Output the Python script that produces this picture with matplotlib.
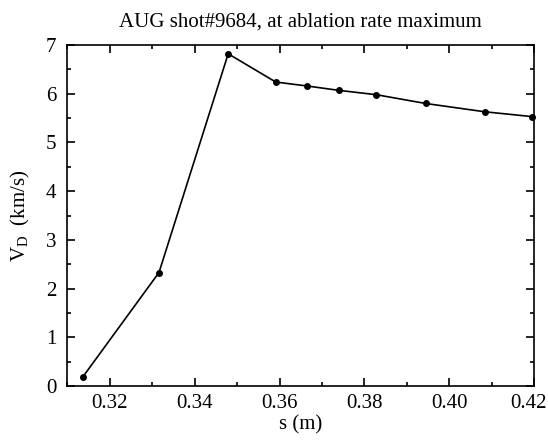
import matplotlib
matplotlib.use("Agg")
import matplotlib.pyplot as plt
from matplotlib.ticker import MultipleLocator, FormatStrFormatter
import matplotlib.transforms as mtransforms

s_m = [0.3136, 0.3316, 0.3479, 0.3591, 0.3664, 0.3739, 0.3828, 0.3944, 0.4083, 0.4195]
v_d = [0.18, 2.33, 6.82, 6.24, 6.16, 6.07, 5.98, 5.80, 5.63, 5.53]
x_ticks = [0.32, 0.34, 0.36, 0.38, 0.40, 0.42]
y_ticks = [0, 1, 2, 3, 4, 5, 6, 7]

plt.rcParams['font.family'] = ['Liberation Serif', 'DejaVu Serif']
plt.rcParams['mathtext.fontset'] = 'custom'
plt.rcParams['mathtext.rm'] = 'Liberation Serif'
plt.rcParams['mathtext.it'] = 'Liberation Serif:italic'

fig = plt.figure(figsize=(5.48, 4.44), dpi=100)
ax = fig.add_axes([0.1228, 0.1306, 0.975 - 0.1228, 0.8986 - 0.1306])
ax.plot(s_m, v_d, color='black', lw=1.2, marker='o', ms=4, clip_on=False, zorder=3)
ax.set_xlim(0.31, 0.42)
ax.set_ylim(0, 7)
ax.set_xticks(x_ticks)
ax.set_yticks(y_ticks)
ax.xaxis.set_major_formatter(FormatStrFormatter('%.2f'))
ax.xaxis.set_minor_locator(MultipleLocator(0.01))
ax.yaxis.set_minor_locator(MultipleLocator(0.5))
ax.tick_params(which='both', direction='in', top=True, right=True, labelsize=15, width=1.2)
ax.tick_params(which='major', length=6)
ax.tick_params(which='minor', length=3)
ax.tick_params(axis='x', which='major', pad=6)
ax.tick_params(axis='y', which='major', pad=8)
for sp in ax.spines.values():
    sp.set_linewidth(1.2)
ax.set_xlabel('s (m)', fontsize=15, labelpad=1)
ax.set_ylabel(r'V$_\mathrm{D}$  (km/s)', fontsize=15, labelpad=10)
ax.set_title('AUG shot#9684, at ablation rate maximum', fontsize=15, pad=13)

fig.canvas.draw()
last = ax.get_xticklabels()[-1]
last.set_transform(last.get_transform() + mtransforms.ScaledTranslation(-6 / 100, 0, fig.dpi_scale_trans))
fig.savefig('out.png', dpi=100)
